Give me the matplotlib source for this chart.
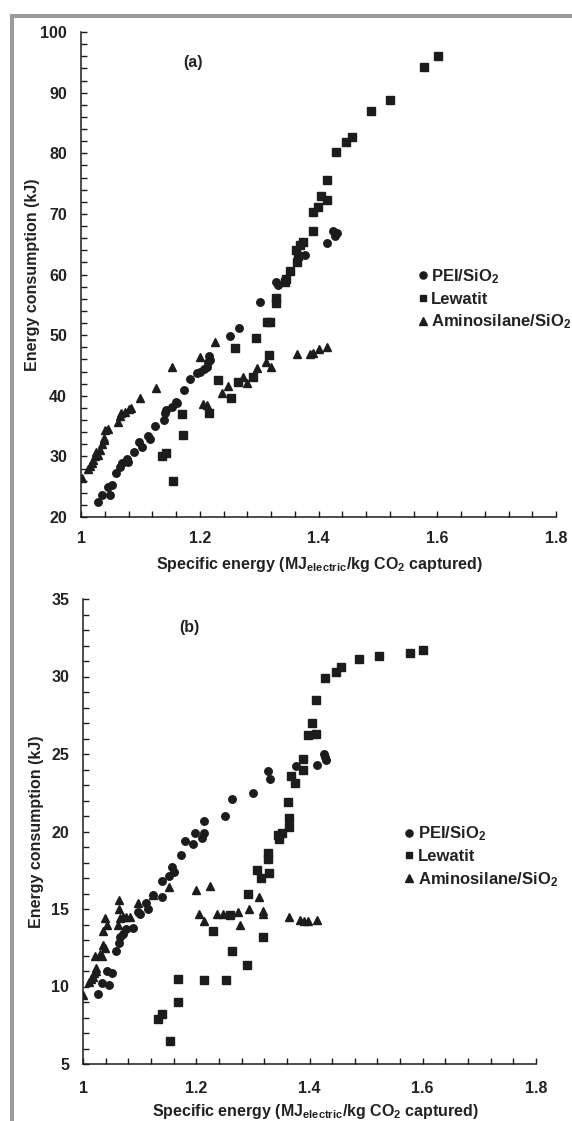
import matplotlib
matplotlib.use('Agg')
import matplotlib.pyplot as plt
from matplotlib.ticker import MultipleLocator
from matplotlib.lines import Line2D

plt.rcParams['font.family'] = ['Liberation Sans', 'DejaVu Sans']
plt.rcParams['font.weight'] = 'bold'
plt.rcParams['mathtext.fontset'] = 'custom'
plt.rcParams['mathtext.rm'] = 'Liberation Sans:bold'
plt.rcParams['mathtext.it'] = 'Liberation Sans:bold'
plt.rcParams['mathtext.bf'] = 'Liberation Sans:bold'

# ---------------- data: panel (a) ----------------
a_pei_x = [1.029, 1.035, 1.046, 1.052, 1.048, 1.059, 1.066, 1.069, 1.077, 1.079, 1.089, 1.098,
           1.102, 1.113, 1.116, 1.125, 1.140, 1.141, 1.143, 1.154, 1.160, 1.162, 1.173, 1.184,
           1.195, 1.200, 1.207, 1.212, 1.214, 1.217, 1.216, 1.251, 1.266, 1.301, 1.328, 1.332,
           1.377, 1.414, 1.425, 1.431, 1.428]
a_pei_y = [22.5, 23.6, 25.0, 25.2, 23.6, 27.2, 28.3, 28.9, 29.5, 29.1, 30.7, 32.4,
           31.6, 33.4, 32.9, 35.0, 36.0, 37.1, 37.7, 38.2, 39.0, 38.8, 41.0, 42.8,
           43.8, 44.0, 44.4, 44.8, 45.6, 45.9, 46.6, 49.8, 51.1, 55.4, 58.8, 58.3,
           63.2, 65.2, 67.1, 66.8, 66.3]

a_lew_x = [1.155, 1.136, 1.143, 1.171, 1.170, 1.216, 1.231, 1.253, 1.259, 1.265, 1.290, 1.294,
           1.317, 1.313, 1.319, 1.328, 1.328, 1.344, 1.346, 1.352, 1.363, 1.366, 1.362, 1.368,
           1.374, 1.390, 1.390, 1.399, 1.405, 1.414, 1.414, 1.429, 1.447, 1.456, 1.488, 1.520,
           1.578, 1.602]
a_lew_y = [26.0, 30.0, 30.5, 33.6, 37.0, 37.1, 42.6, 39.6, 47.9, 42.3, 43.1, 49.5,
           46.8, 52.2, 52.2, 56.1, 55.3, 58.8, 59.2, 60.6, 62.1, 63.0, 64.1, 64.9,
           65.3, 67.1, 70.3, 71.1, 72.9, 72.3, 75.6, 80.2, 81.8, 82.6, 86.9, 88.8,
           94.3, 96.1]

a_ami_x = [1.001, 1.012, 1.015, 1.018, 1.021, 1.024, 1.025, 1.029, 1.032, 1.035, 1.038, 1.039,
           1.040, 1.046, 1.063, 1.066, 1.068, 1.074, 1.080, 1.084, 1.099, 1.126, 1.153, 1.200,
           1.226, 1.206, 1.213, 1.238, 1.248, 1.272, 1.279, 1.296, 1.311, 1.320, 1.363, 1.386,
           1.391, 1.400, 1.414]
a_ami_y = [26.4, 28.0, 28.4, 28.9, 29.4, 30.0, 30.7, 30.2, 31.1, 32.0, 32.7, 33.0,
           34.4, 34.5, 35.7, 36.7, 37.1, 37.4, 37.8, 37.9, 39.6, 41.2, 44.7, 46.4,
           48.8, 38.6, 38.4, 40.5, 41.6, 43.1, 42.1, 44.5, 45.6, 44.8, 46.9, 46.9,
           47.0, 47.7, 48.1]

# ---------------- data: panel (b) ----------------
b_pei_x = [1.027, 1.033, 1.046, 1.043, 1.051, 1.058, 1.064, 1.065, 1.071, 1.076, 1.088, 1.097,
           1.101, 1.111, 1.115, 1.123, 1.140, 1.140, 1.152, 1.157, 1.161, 1.173, 1.181, 1.194,
           1.198, 1.210, 1.213, 1.214, 1.250, 1.264, 1.301, 1.327, 1.331, 1.376, 1.413, 1.426,
           1.429, 1.427]
b_pei_y = [9.5, 10.2, 10.1, 11.0, 10.9, 12.3, 12.8, 13.2, 13.4, 13.7, 13.8, 14.8,
           14.7, 15.4, 15.0, 15.9, 15.8, 16.8, 17.1, 17.7, 17.4, 18.5, 19.4, 19.2,
           19.9, 19.6, 19.9, 20.7, 21.0, 22.1, 22.5, 23.9, 23.4, 24.2, 24.3, 25.0,
           24.6, 24.8]

b_lew_x = [1.154, 1.133, 1.140, 1.168, 1.167, 1.214, 1.252, 1.230, 1.264, 1.259, 1.290, 1.292,
           1.308, 1.314, 1.317, 1.329, 1.327, 1.327, 1.347, 1.351, 1.345, 1.364, 1.364, 1.362,
           1.374, 1.367, 1.389, 1.389, 1.398, 1.412, 1.404, 1.412, 1.427, 1.447, 1.456, 1.488,
           1.522, 1.578, 1.601]
b_lew_y = [6.5, 7.9, 8.2, 9.0, 10.5, 10.4, 10.4, 13.6, 12.3, 14.6, 11.4, 16.0,
           17.5, 17.0, 13.2, 17.3, 18.2, 18.6, 19.5, 19.9, 19.8, 20.3, 20.9, 21.9,
           23.1, 23.6, 24.0, 24.7, 26.2, 26.3, 27.0, 28.5, 29.9, 30.3, 30.6, 31.1,
           31.3, 31.5, 31.7]

b_ami_x = [1.000, 1.011, 1.015, 1.018, 1.020, 1.023, 1.023, 1.022, 1.030, 1.034, 1.035, 1.038,
           1.036, 1.042, 1.039, 1.061, 1.065, 1.064, 1.064, 1.071, 1.076, 1.083, 1.098, 1.123,
           1.152, 1.199, 1.224, 1.205, 1.213, 1.236, 1.247, 1.274, 1.277, 1.294, 1.311, 1.318,
           1.318, 1.363, 1.383, 1.390, 1.398, 1.413]
b_ami_y = [9.45, 10.3, 10.5, 10.6, 10.9, 11.2, 11.0, 12.0, 12.1, 12.0, 12.7, 12.5,
           13.6, 14.0, 14.4, 14.0, 14.4, 15.0, 15.6, 14.5, 14.5, 14.5, 15.4, 15.9,
           16.4, 16.2, 16.5, 14.7, 14.2, 14.7, 14.7, 14.8, 14.0, 15.0, 15.8, 14.9,
           14.7, 14.5, 14.3, 14.25, 14.25, 14.3]

x_ticks = [1.0, 1.2, 1.4, 1.6, 1.8]
x_tick_labels = ['1', '1.2', '1.4', '1.6', '1.8']
series_labels = ['PEI/SiO$_2$', 'Lewatit', 'Aminosilane/SiO$_2$']
panel_labels = ['(a)', '(b)']
xlabel = 'Specific energy (MJ$_{electric}$/kg CO$_2$ captured)'
ylabel = 'Energy consumption (kJ)'

# ---------------- figure ----------------
W, H = 572, 1121
fig = plt.figure(figsize=(W / 100, H / 100), dpi=100)

ink = '#1c1c1c'
txt = '#222222'
FS = 11.5


def place(l, r, t, b):
    return [l / W, 1 - b / H, (r - l) / W, (b - t) / H]


ax_a = fig.add_axes(place(81, 556, 32, 517))
ax_b = fig.add_axes(place(83, 536, 599, 1064))

panels = [
    (ax_a, (a_pei_x, a_pei_y), (a_lew_x, a_lew_y), (a_ami_x, a_ami_y), (20, 100), 10, 2, 0),
    (ax_b, (b_pei_x, b_pei_y), (b_lew_x, b_lew_y), (b_ami_x, b_ami_y), (5, 35), 5, 1, 1),
]

for ax, pei, lew, ami, ylim, ymaj, ymin, idx in panels:
    h1, = ax.plot(pei[0], pei[1], 'o', color=ink, ms=5.4, mec=ink, ls='none')
    h2, = ax.plot(lew[0], lew[1], 's', color=ink, ms=5.2, mec=ink, ls='none')
    h3, = ax.plot(ami[0], ami[1], '^', color=ink, ms=6.2, mec=ink, ls='none')
    ax.set_xlim(1.0, 1.8)
    ax.set_ylim(*ylim)
    ax.set_xticks(x_ticks)
    ax.set_xticklabels(x_tick_labels)
    ax.xaxis.set_minor_locator(MultipleLocator(0.04))
    ax.yaxis.set_major_locator(MultipleLocator(ymaj))
    ax.yaxis.set_minor_locator(MultipleLocator(ymin))
    for s in ['top', 'right']:
        ax.spines[s].set_visible(False)
    for s in ['left', 'bottom']:
        ax.spines[s].set_linewidth(1.1)
        ax.spines[s].set_color(ink)
    ax.tick_params(which='both', direction='in', length=4, width=1.0, color=ink,
                   labelsize=FS, labelcolor=txt)
    ax.tick_params(axis='y', which='major', pad=10)
    ax.tick_params(axis='x', which='major', pad=10 if idx == 0 else 12)
    ax.set_xlabel(xlabel, fontsize=FS, fontweight='bold', color=txt)
    ax.set_ylabel(ylabel, fontsize=FS, fontweight='bold', color=txt)
    ax.text(0.236 if idx == 0 else 0.234, 0.938, panel_labels[idx], transform=ax.transAxes,
            ha='center', va='center', fontsize=FS, fontweight='bold', color=txt)
    leg = ax.legend([h1, h2, h3], series_labels, loc='center left',
                    bbox_to_anchor=(0.709, 0.449 if idx == 0 else 0.446),
                    frameon=False, fontsize=12, handlelength=0.6, handletextpad=0.2,
                    labelspacing=0.35, borderpad=0, borderaxespad=0, markerscale=0.95)
    for t in leg.get_texts():
        t.set_color(txt)

ax_a.xaxis.set_label_coords(0.502, -0.078)
ax_a.yaxis.set_label_coords(-0.086, 0.5)
ax_b.xaxis.set_label_coords(0.514, -0.081)
ax_b.yaxis.set_label_coords(-0.086, 0.5)

# gray frame lines
frame = '#9b9b9b'
fig.add_artist(Line2D([10 / W, 1.0], [1 - 15.5 / H, 1 - 15.5 / H], transform=fig.transFigure,
                      color=frame, lw=2.9, solid_capstyle='butt'))
fig.add_artist(Line2D([12 / W, 12 / W], [0.0, 1 - 14 / H], transform=fig.transFigure,
                      color=frame, lw=2.9, solid_capstyle='butt'))

fig.savefig('out.png', dpi=100)
